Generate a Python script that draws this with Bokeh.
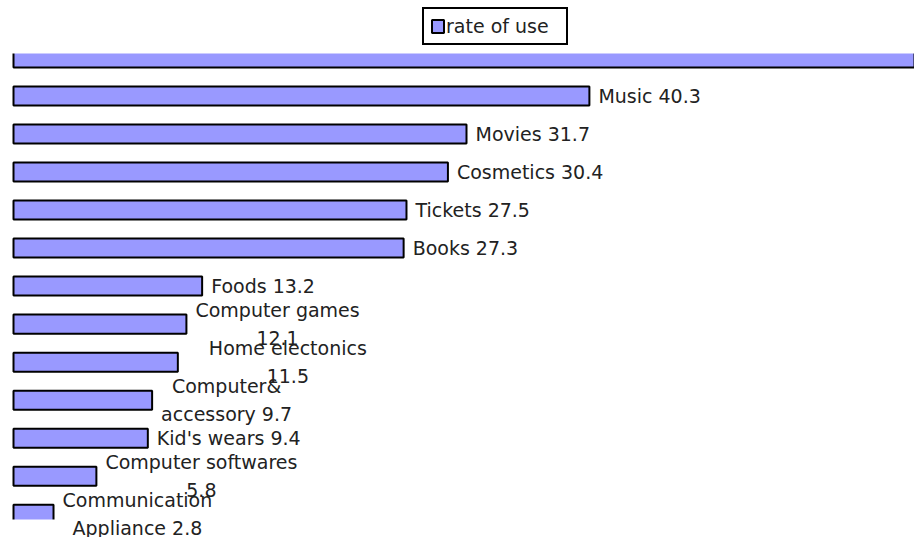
from bokeh.plotting import figure
from bokeh.models import Range1d, Label, Legend, LegendItem, BoxAnnotation
from bokeh.embed import file_html
from bokeh.resources import INLINE

# data (top to bottom)
categories = ["Clothes", "Music", "Movies", "Cosmetics", "Tickets", "Books", "Foods",
              "Computer games", "Home electonics", "Computer&\naccessory", "Kid's wears",
              "Computer softwares", "Communication\nAppliance"]
values = [66.0, 40.3, 31.7, 30.4, 27.5, 27.3, 13.2, 12.1, 11.5, 9.7, 9.4, 5.8, 2.8]
# how each label is broken into lines (None: label lies outside the picture)
label_texts = [None, "Music 40.3", "Movies 31.7", "Cosmetics 30.4", "Tickets 27.5",
               "Books 27.3", "Foods 13.2", "Computer games\n12.1", "Home electonics\n11.5",
               "Computer&\naccessory 9.7", "Kid's wears 9.4", "Computer softwares\n5.8",
               "Communication\nAppliance 2.8"]
series_name = "rate of use"

n = len(values)
ypos = [n - 1 - i for i in range(n)]

FONT = "DejaVu Sans"
FS = "19px"
TXT = "#222222"

# visible plotting area of the original chart (data units)
area_top = n - 1 + 0.118
area_bottom = -0.14

p = figure(width=914, height=537, output_backend="svg", toolbar_location=None,
           x_range=Range1d(-0.91, 63.05), y_range=Range1d(-0.613, n - 1 + 1.513),
           min_border_left=0, min_border_right=0, min_border_top=0, min_border_bottom=0)
p.axis.visible = False
p.grid.visible = False
p.outline_line_color = None
p.background_fill_color = "white"

bars = p.hbar(y=ypos, left=0, right=values, height=0.5, fill_color="#9999FF",
              line_color="black", line_width=2)

# the original plotting area clips the outermost bars
p.add_layout(BoxAnnotation(bottom=area_top, fill_color="white", fill_alpha=1,
                           line_color=None))
p.add_layout(BoxAnnotation(top=area_bottom, fill_color="white", fill_alpha=1,
                           line_color=None))

extra_pad = {8: 22}
for i, (v, t) in enumerate(zip(values, label_texts)):
    if t is None:
        continue
    multi = "\n" in t
    lab = Label(x=v, y=ypos[i], text=t, x_offset=9 + extra_pad.get(i, 0),
                text_font=FONT, text_font_size=FS, text_color=TXT,
                text_align="center" if multi else "left",
                text_baseline="middle", text_line_height=1.27,
                anchor="center_left")
    p.add_layout(lab)

lg = Legend(items=[LegendItem(label=series_name, renderers=[bars])],
            location=(422, 492))
lg.border_line_color = "black"
lg.border_line_alpha = 1
lg.border_line_width = 2
lg.background_fill_color = "white"
lg.background_fill_alpha = 1
lg.padding = 6
lg.margin = 0
lg.glyph_width = 15
lg.glyph_height = 16
lg.label_standoff = 1
lg.label_width = 114
lg.label_height = 18
lg.label_text_font = FONT
lg.label_text_font_size = FS
lg.label_text_color = TXT
p.add_layout(lg, "center")

open("out.html", "w").write(file_html(p, INLINE))
